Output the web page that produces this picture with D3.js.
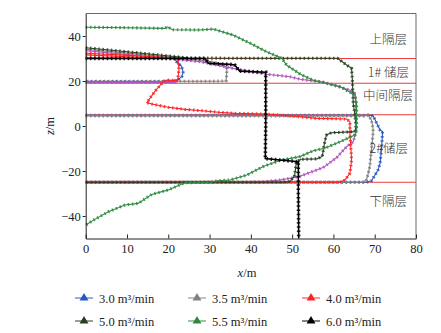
<!DOCTYPE html>
<html><head><meta charset="utf-8">
<script src="https://cdn.jsdelivr.net/npm/d3@7"></script>
<style>
body{margin:0;background:#fff;}
text{font-family:"Liberation Serif","Times New Roman",serif;}
</style></head>
<body><svg id="c" width="441" height="333"></svg>
<script>
// ---- data ----
const xTicks = [0,10,20,30,40,50,60,70,80];
const zTicks = [-40,-20,0,20,40];
const layerBounds = [30,19,5,-25];
const layerLabels = ["上隔层","1# 储层","中间隔层","2#储层","下隔层"];
const layerLabelZ = [38.5,24,13.5,-10,-33.5];
const seriesNames = ["3.0 m³/min","3.5 m³/min","4.0 m³/min","5.0 m³/min","5.5 m³/min","6.0 m³/min"];
const seriesColors = ["#2458c0","#808080","#ff2222","#26401f","#2f8a40","#000000"];

const q30 = [
 [[0,30.3],[21.5,30.1],[22,28.6],[23.2,26.5],[23.6,24],[23.3,22],[22.3,20.4],[21,19.8],[0,19.8]],
 [[0,4.8],[68,4.8],[69.6,4.6],[70.5,1.2],[71.3,-1.8],[71.9,-2.5],[71.7,-9.2],[71.3,-16.6],[70.8,-19.6],[69.6,-23.2],[69.2,-24.4],[68,-25],[0,-25]]
];
const q35 = [
 [[0,34.1],[10,32.4],[20,30.6],[28,29.2],[32,28],[34,26.5],[34.2,24.9],[34.1,22],[34,20],[30,19.9],[0,19.9]],
 [[0,4.5],[67.5,4.5],[68.4,4.9],[69.2,2.7],[69.6,-1],[69.6,-3.3],[69.2,-10.7],[68.8,-18.1],[68.3,-22],[68,-24],[67,-25],[0,-25]]
];
const q40 = [
 [[0,32.3],[8,31.6],[16,30.8],[22,30.2],[22.4,29.3],[22.6,25],[22.3,21],[22,20.2],[19.6,20.4],[18.8,19.7],[16.8,15.5],[14.8,10.4],[16,9.8],[20,8.3],[24,7.4],[28.1,6.8],[32.1,6.1],[36.1,5.6],[43.8,5.3],[51.9,4.1],[55.9,3.4],[63.2,3.1],[64,1.9],[64,-3.3],[64.4,-15.1],[64,-21],[62.8,-24],[61.5,-25],[0,-25]],
 [[0,31.6],[10,30.8],[18,30.2]]
];
const q45 = [
 [[0,33.5],[10,31.8],[20,30],[27.7,28.6],[35.7,25.6],[43.8,23],[49.5,21.9],[51.9,20.8],[57.5,19.5],[60,18.2],[64.8,15.5],[65.3,14],[65.5,5],[65.5,-2.5],[64.8,-7],[63.2,-9.2],[60.8,-14],[57.5,-18.5],[54.3,-20.7],[51.5,-22.6],[47,-24],[43,-24.8],[40,-25],[0,-25]],
 [[0,19.4],[22,19.4]]
];
const q50 = [
 [[0,34.8],[10,33],[22,30.8],[25,30.2],[40,30.1],[61,30.1],[63.2,27.1],[64.4,25.6],[64.6,20],[64.8,10],[65.2,5],[65.5,0],[65.2,-2.5],[59.5,-3],[58.3,-4],[57.8,-8],[57.3,-13.5],[56,-14.6],[52,-14.8],[51,-16.5],[50.6,-22],[49.5,-24.7],[48,-25],[0,-25]]
];
const q55 = [
 [[0,43.9],[10,43.7],[19.2,43.4],[19.8,44.1],[21,42.8],[27.7,42.7],[30.9,43.1],[35.7,40.4],[39.8,36.8],[43.8,33],[47.5,30.1],[48.7,27],[52,23],[55,20.4],[58.3,19],[61.6,17.5],[65.2,13.8],[65.6,10],[65.6,0],[65.6,-1.8],[65.2,-4],[61.6,-7],[57.9,-9.9],[55.1,-11],[51.9,-13.6],[47,-15.3],[46.2,-15.9],[43,-18],[39,-21.8],[35,-24],[32,-24.3],[30,-25],[24,-25.2],[20,-28.4],[16,-30.4],[12.7,-34.4],[9.5,-35.1],[5.5,-38.1],[2.2,-41.5],[0,-44]]
];
const q60 = [
 [[0,30],[28.9,30],[29.7,27.9],[34.9,27.4],[36.1,27.1],[37.3,24.4],[43.6,23.9],[43.6,0],[43.5,-14.5],[47,-15.1],[51.5,-15.9],[51.5,-30],[51.6,-50]]
];
const purpleColor = "#b055c0";

// ---- chart ----
const svg = d3.select("#c");
const x = d3.scaleLinear([0,80],[85.7,416]);
const y = d3.scaleLinear([-50,50],[238.5,13.5]);
const line = d3.line().x(d=>x(d[0])).y(d=>y(d[1]));

// frame
svg.append("line").attr("x1",x(0)).attr("x2",x(80)).attr("y1",y(50)).attr("y2",y(50)).attr("stroke","#444").attr("stroke-width",0.8);
svg.append("line").attr("x1",x(80)).attr("x2",x(80)).attr("y1",y(50)).attr("y2",y(-50)).attr("stroke","#444").attr("stroke-width",0.8);

// layer boundaries
svg.selectAll(".lb").data(layerBounds).join("line")
 .attr("x1",x(0)).attr("x2",x(80)).attr("y1",d=>y(d)).attr("y2",d=>y(d))
 .attr("stroke","#f03c3c").attr("stroke-width",1.1);

function drawSeries(segs,color,w){
  const g = svg.append("g");
  segs.forEach(s=>{
    g.append("path").attr("d",line(s)).attr("fill","none").attr("stroke",color).attr("stroke-width",w);
    g.append("path").attr("d",line(s)).attr("fill","none").attr("stroke",color).attr("stroke-width",w+2)
     .attr("stroke-dasharray","1.5,2.7").attr("opacity",0.85);
  });
}
const allSeries = [q30,q35,q45,q40,q50,q55,q60];
const allColors = [seriesColors[0],seriesColors[1],purpleColor,seriesColors[2],seriesColors[3],seriesColors[4],seriesColors[5]];
allSeries.forEach((s,i)=>drawSeries(s,allColors[i], i===6?1.6:1.1));

// layer labels
const labelRight = [407,409,413,408,407];
svg.selectAll(".ll").data(layerLabels).join("text")
 .attr("x",(d,i)=>labelRight[i]).attr("y",(d,i)=>y(layerLabelZ[i])+4.5).attr("text-anchor","end")
 .attr("font-size",12.5).attr("fill","#333")
 .style("font-family","'Noto Sans CJK SC','Liberation Serif',serif").style("font-weight",300).text(d=>d);

// axes
const ax = svg.append("g").attr("transform",`translate(0,${y(-50)})`)
 .call(d3.axisBottom(x).tickValues(xTicks).tickSizeInner(-4).tickSizeOuter(0).tickPadding(6));
const ay = svg.append("g").attr("transform",`translate(${x(0)},0)`)
 .call(d3.axisLeft(y).tickValues(zTicks).tickSizeInner(3).tickSizeOuter(0).tickPadding(2).tickFormat(d=>d<0?"−"+Math.abs(d):d));
[ax,ay].forEach(a=>{
  a.selectAll("text").attr("font-size",12.5).attr("fill","#222").style("font-family","'Liberation Serif',serif");
  a.select(".domain").attr("stroke","#222");
  a.selectAll(".tick line").attr("stroke","#222");
});

// axis titles
const xt = svg.append("text").attr("x",247).attr("y",277).attr("text-anchor","middle").attr("font-size",12.5).attr("fill","#222");
xt.append("tspan").attr("font-style","italic").text("x");
xt.append("tspan").text("/m");
const yt = svg.append("text").attr("transform",`translate(54,${y(0)}) rotate(-90)`).attr("text-anchor","middle").attr("font-size",12.5).attr("fill","#222");
yt.append("tspan").attr("font-style","italic").text("z");
yt.append("tspan").text("/m");

// legend
const colX = [75,188,302];
const rowY = [298,321];
seriesNames.forEach((n,i)=>{
  const cx = colX[i%3], cy = rowY[Math.floor(i/3)];
  const g = svg.append("g");
  g.append("line").attr("x1",cx).attr("x2",cx+18).attr("y1",cy).attr("y2",cy).attr("stroke",seriesColors[i]).attr("stroke-width",1.2).attr("opacity",0.8);
  g.append("path").attr("d",d3.symbol(d3.symbolTriangle,34)()).attr("transform",`translate(${cx+9},${cy})`).attr("fill",seriesColors[i]);
  g.append("text").attr("x",cx+24).attr("y",cy+4.5).attr("font-size",12.5).attr("fill","#222").text(n);
});
</script></body></html>
